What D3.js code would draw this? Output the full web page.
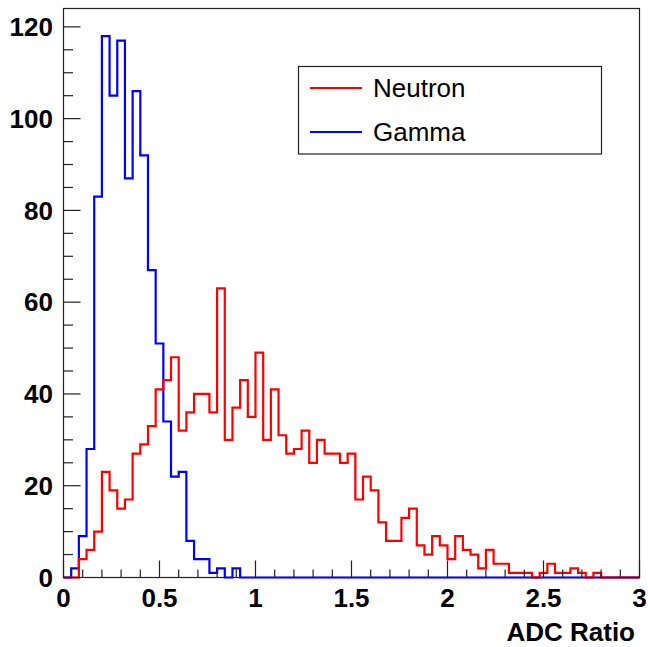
<!DOCTYPE html>
<html>
<head>
<meta charset="utf-8">
<script src="https://cdn.jsdelivr.net/npm/d3@7/dist/d3.min.js"></script>
<style>
  html, body { margin: 0; padding: 0; background: #fff; }
  svg { display: block; }
</style>
</head>
<body>
<svg id="chart" width="648" height="647"></svg>
<script>
// ---- data ----
const xMin = 0, xMax = 3, binWidth = 0.04;
const seriesNames = ["Neutron", "Gamma"];
const neutron = [0, 0, 4, 6, 10, 23, 19, 15, 17, 27, 29, 33, 41, 43, 48, 32, 36, 40, 40, 36,
                 63, 30, 37, 43, 35, 49, 30, 41, 31, 27, 28, 32, 25, 30, 27, 27, 25, 27, 17, 22,
                 19, 12, 8, 8, 13, 15, 7, 5, 9, 7, 4, 9, 6, 5, 2, 6, 3, 3, 1, 1,
                 1, 0, 1, 3, 1, 1, 2, 1, 0, 1, 0, 0, 0, 0, 0];
const gamma = [0, 2, 9, 28, 83, 118, 105, 117, 87, 106, 92, 67, 51, 34, 22, 23, 8, 4, 4, 1,
               2, 0, 2, 0, 0, 0, 0, 0, 0, 0, 0, 0, 0, 0, 0, 0, 0, 0, 0, 0,
               0, 0, 0, 0, 0, 0, 0, 0, 0, 0, 0, 0, 0, 0, 0, 0, 0, 0, 0, 0,
               0, 0, 0, 0, 0, 0, 0, 0, 0, 0, 0, 0, 0, 0, 0];
const xTickLabels = [0, 0.5, 1, 1.5, 2, 2.5, 3];
const yTickLabels = [0, 20, 40, 60, 80, 100, 120];
const yMax = 124;
const xTitle = "ADC Ratio";

// ---- layout ----
const frame = { left: 63.5, right: 639.5, top: 8.5, bottom: 577.5 };
const svg = d3.select("#chart");
const x = d3.scaleLinear().domain([xMin, xMax]).range([frame.left, frame.right]);
const y = d3.scaleLinear().domain([0, yMax]).range([frame.bottom, frame.top]);
const font = "'Liberation Sans', Arial, Helvetica, sans-serif";

// histogram outline path
function histPath(values) {
  const p = d3.path();
  p.moveTo(x(xMin), y(0));
  values.forEach((v, i) => {
    const x0 = xMin + i * binWidth;
    p.lineTo(x(x0), y(v));
    p.lineTo(x(x0 + binWidth), y(v));
  });
  p.lineTo(x(xMin + values.length * binWidth), y(0));
  return p.toString();
}

const colors = { Neutron: "#ff0000", Gamma: "#0000ff" };

svg.append("path").attr("d", histPath(gamma))
  .attr("fill", "none").attr("stroke", colors.Gamma).attr("stroke-width", 2.2);
svg.append("path").attr("d", histPath(neutron))
  .attr("fill", "none").attr("stroke", colors.Neutron).attr("stroke-width", 2.2);

// frame
svg.append("rect")
  .attr("x", frame.left).attr("y", frame.top)
  .attr("width", frame.right - frame.left).attr("height", frame.bottom - frame.top)
  .attr("fill", "none").attr("stroke", "#222").attr("stroke-width", 1.2);

// x axis ticks (inside, upward)
const xMinor = d3.range(0, 31).map(d => d / 10);
svg.append("g").selectAll("line").data(xMinor).join("line")
  .attr("x1", d => x(d)).attr("x2", d => x(d))
  .attr("y1", frame.bottom)
  .attr("y2", d => frame.bottom - (Math.abs(d * 2 - Math.round(d * 2)) < 1e-9 ? 17 : 8))
  .attr("stroke", "#222").attr("stroke-width", 1.2);

svg.append("g").selectAll("text").data(xTickLabels).join("text")
  .attr("x", d => x(d)).attr("y", 607)
  .attr("text-anchor", "middle")
  .attr("font-family", font).attr("font-weight", "bold").attr("font-size", 26)
  .attr("fill", "#000")
  .text(d => d3.format("")(d));

// y axis ticks (inside, rightward)
const yMinorTicks = d3.range(0, 121, 5);
svg.append("g").selectAll("line").data(yMinorTicks).join("line")
  .attr("x1", frame.left)
  .attr("x2", d => frame.left + (d % 20 === 0 ? 17 : 9.5))
  .attr("y1", d => y(d)).attr("y2", d => y(d))
  .attr("stroke", "#222").attr("stroke-width", 1.2);

svg.append("g").selectAll("text").data(yTickLabels).join("text")
  .attr("x", 53).attr("y", d => y(d))
  .attr("dy", "0.35em")
  .attr("text-anchor", "end")
  .attr("font-family", font).attr("font-weight", "bold").attr("font-size", 26)
  .attr("fill", "#000")
  .text(d => d);

// x title
svg.append("text")
  .attr("x", 635).attr("y", 641)
  .attr("text-anchor", "end")
  .attr("font-family", font).attr("font-weight", "bold").attr("font-size", 26)
  .attr("fill", "#000")
  .text(xTitle);

// legend
const lg = svg.append("g");
lg.append("rect")
  .attr("x", 298.5).attr("y", 66.5).attr("width", 303).attr("height", 87.5)
  .attr("fill", "#fff").attr("stroke", "#222").attr("stroke-width", 1.2);
const legendRows = [88, 132];
seriesNames.forEach((name, i) => {
  lg.append("line")
    .attr("x1", 310).attr("x2", 362)
    .attr("y1", legendRows[i]).attr("y2", legendRows[i])
    .attr("stroke", colors[name]).attr("stroke-width", 2.2);
  lg.append("text")
    .attr("x", 373).attr("y", legendRows[i])
    .attr("dy", "0.36em")
    .attr("font-family", font).attr("font-size", 26)
    .attr("fill", "#000")
    .text(name);
});
</script>
</body>
</html>
